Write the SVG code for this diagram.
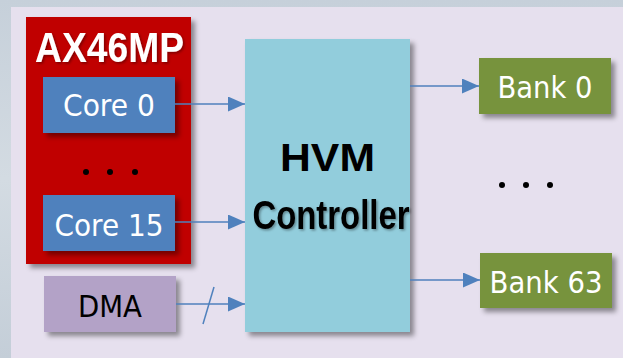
<svg xmlns="http://www.w3.org/2000/svg" width="623" height="358" viewBox="0 0 623 358">
<defs>
<linearGradient id="bg" x1="0" y1="0" x2="0" y2="1">
<stop offset="0" stop-color="#c6d0da"/>
<stop offset="0.5" stop-color="#d3dbe2"/>
<stop offset="1" stop-color="#c4ced8"/>
</linearGradient>
<filter id="sh" x="-20%" y="-20%" width="150%" height="150%">
<feDropShadow dx="4" dy="4" stdDeviation="2.5" flood-color="#000" flood-opacity="0.4"/>
</filter>
<filter id="tsh" x="-10%" y="-20%" width="130%" height="150%">
<feDropShadow dx="1.5" dy="1.5" stdDeviation="1" flood-color="#000" flood-opacity="0.35"/>
</filter>
<marker id="arr" markerUnits="userSpaceOnUse" markerWidth="17" markerHeight="15" refX="17" refY="7.5" orient="auto">
<path d="M0,0 L17,7.5 L0,15 Z" fill="#4f81bd"/>
</marker>
</defs>
<style>
.lbl{font-family:"DejaVu Sans","Open Sans",sans-serif;font-size:30px;text-anchor:middle}
.w{fill:#ffffff}
.k{fill:#000000}
.bold{font-family:"Liberation Sans",Arial,sans-serif;font-weight:bold;text-anchor:middle}
.conn{stroke:#4f81bd;stroke-width:1.5;fill:none}
.dot{fill:#000}
</style>
<rect x="0" y="0" width="623" height="358" fill="url(#bg)"/>
<rect x="11" y="7" width="612" height="351" fill="#e6e0ee"/>

<g id="ax46mp">
<rect x="26" y="17" width="165" height="247" fill="#c00000" filter="url(#sh)"/>
<text x="109.5" y="62" class="bold w" font-size="42" textLength="149" lengthAdjust="spacingAndGlyphs" filter="url(#tsh)">AX46MP</text>
<circle class="dot" cx="86" cy="172" r="3"/>
<circle class="dot" cx="110" cy="172" r="3"/>
<circle class="dot" cx="135" cy="172" r="3"/>
</g>

<g id="core0">
<rect x="43" y="77" width="132" height="56" fill="#4f81bd" filter="url(#sh)"/>
<text x="109" y="116" class="lbl w" textLength="92" lengthAdjust="spacingAndGlyphs">Core 0</text>
</g>

<g id="core15">
<rect x="43" y="195" width="132" height="56" fill="#4f81bd" filter="url(#sh)"/>
<text x="109" y="236" class="lbl w" textLength="109" lengthAdjust="spacingAndGlyphs">Core 15</text>
</g>

<g id="dma">
<rect x="44" y="276" width="132" height="56" fill="#b3a2c7" filter="url(#sh)"/>
<text x="110" y="317" class="lbl k" font-size="31" textLength="64" lengthAdjust="spacingAndGlyphs">DMA</text>
</g>

<g id="hvm">
<rect x="245" y="39" width="165" height="293" fill="#92cddc" filter="url(#sh)"/>
<text x="327.5" y="171" class="bold k" font-size="39" textLength="95" lengthAdjust="spacingAndGlyphs">HVM</text>
<text x="331" y="229" class="bold k" font-size="41" textLength="157" lengthAdjust="spacingAndGlyphs" filter="url(#tsh)">Controller</text>
</g>

<g id="bank0">
<rect x="479" y="58" width="132" height="56" fill="#77933c" filter="url(#sh)"/>
<text x="545" y="98" class="lbl w" textLength="95" lengthAdjust="spacingAndGlyphs">Bank 0</text>
</g>

<g id="bank63">
<rect x="480" y="253" width="132" height="55" fill="#77933c" filter="url(#sh)"/>
<text x="546" y="293" class="lbl w" textLength="113" lengthAdjust="spacingAndGlyphs">Bank 63</text>
</g>

<g id="bank-dots">
<circle class="dot" cx="502" cy="185" r="3"/>
<circle class="dot" cx="526" cy="185" r="3"/>
<circle class="dot" cx="550" cy="185" r="3"/>
</g>

<g id="connectors">
<path class="conn" d="M175,104 H245" marker-end="url(#arr)"/>
<path class="conn" d="M175,222 H245" marker-end="url(#arr)"/>
<path class="conn" d="M176,304 H245" marker-end="url(#arr)"/>
<path class="conn" d="M203,324 L214,287"/>
<path class="conn" d="M410,86 H479" marker-end="url(#arr)"/>
<path class="conn" d="M410,280 H480" marker-end="url(#arr)"/>
</g>
</svg>
